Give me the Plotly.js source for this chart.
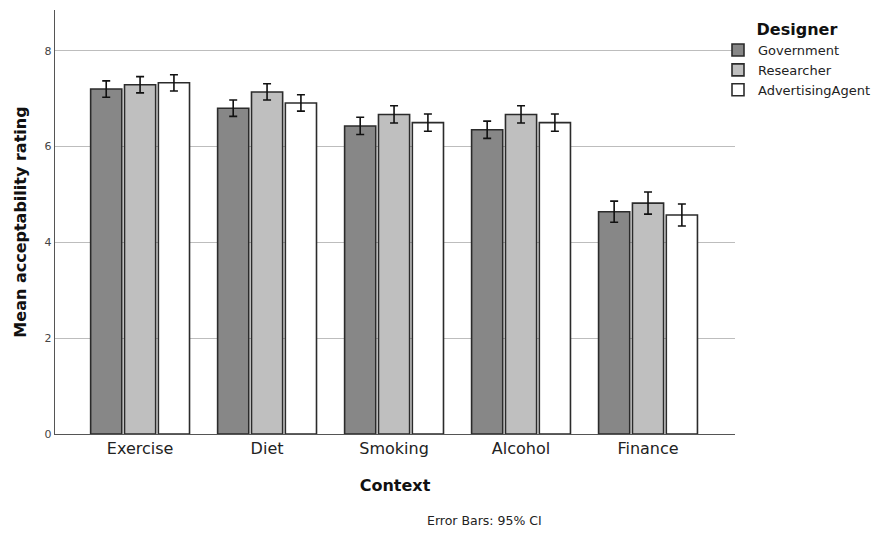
<!DOCTYPE html>
<html>
<head>
<meta charset="utf-8">
<script src="https://cdn.plot.ly/plotly-3.0.1.min.js"></script>
<style>html,body{margin:0;padding:0;background:#fff;}#chart{width:888px;height:535px;}</style>
</head>
<body>
<div id="chart"></div>
<script>
const categories = ["Exercise", "Diet", "Smoking", "Alcohol", "Finance"];
const seriesNames = ["Government", "Researcher", "AdvertisingAgent"];
const government = [7.20, 6.80, 6.43, 6.35, 4.64];
const researcher = [7.29, 7.14, 6.67, 6.67, 4.82];
const advertising = [7.33, 6.91, 6.50, 6.50, 4.57];
const govCI = [0.17, 0.17, 0.18, 0.18, 0.22];
const resCI = [0.17, 0.17, 0.18, 0.18, 0.23];
const advCI = [0.17, 0.17, 0.18, 0.18, 0.23];
const yTicks = [0, 2, 4, 6, 8];
const footnote = "Error Bars: 95% CI";

const fills = ["#878787", "#bfbfbf", "#ffffff"];
const values = [government, researcher, advertising];
const cis = [govCI, resCI, advCI];
const font = "DejaVu Sans, sans-serif";

const traces = seriesNames.map((name, i) => ({
  type: "bar",
  name: name,
  x: categories,
  y: values[i],
  marker: { color: fills[i], line: { color: "#2b2b2b", width: 1.6 } },
  error_y: { type: "data", array: cis[i], visible: true, color: "#111", thickness: 1.6, width: 4 },
  hoverinfo: "skip"
}));

const layout = {
  width: 888, height: 535,
  margin: { l: 55, r: 153, t: 10, b: 101 },
  paper_bgcolor: "#fff", plot_bgcolor: "#fff",
  barmode: "group", bargap: 0.2, bargroupgap: 0.08,
  font: { family: font, color: "#222" },
  xaxis: {
    type: "category",
    range: [-0.67, 4.685],
    showgrid: false, zeroline: false,
    showline: true, linecolor: "#555", linewidth: 1.2,
    ticks: "", tickfont: { size: 16, color: "#222" },
    title: { text: "Context", font: { size: 16, color: "#111", weight: "bold" }, standoff: 22 }
  },
  yaxis: {
    range: [0, 8.85],
    tickvals: yTicks, ticktext: yTicks.map(String),
    showgrid: true, gridcolor: "#bdbdbd", gridwidth: 1,
    zeroline: false, showline: true, linecolor: "#555", linewidth: 1.2,
    ticks: "", tickfont: { size: 11, color: "#444" },
    title: { text: "Mean acceptability rating", font: { size: 16, color: "#111", weight: "bold" }, standoff: 14 }
  },
  legend: {
    x: 0.975, xanchor: "left", y: 0.99, yanchor: "top",
    bgcolor: "rgba(255,255,255,0)",
    font: { size: 13, color: "#222" },
    tracegroupgap: 0, itemwidth: 30,
    title: { text: "Designer", side: "top center", font: { size: 16, color: "#111", weight: "bold" } }
  },
  annotations: [{
    text: footnote, xref: "paper", yref: "paper", x: 0.632, y: -0.205,
    xanchor: "center", yanchor: "middle", showarrow: false,
    font: { size: 12.5, color: "#222" }
  }]
};

Plotly.newPlot("chart", traces, layout, { displayModeBar: false, staticPlot: true });
</script>
</body>
</html>
